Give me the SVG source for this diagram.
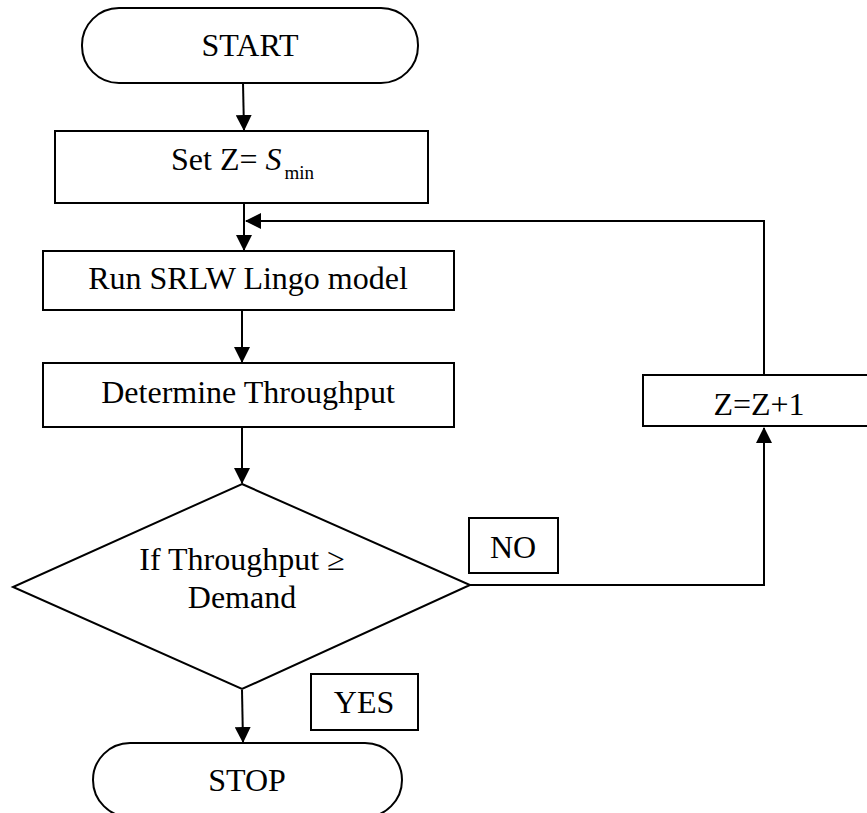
<svg xmlns="http://www.w3.org/2000/svg" width="867" height="813" viewBox="0 0 867 813">
<style>
.s{fill:#fff;stroke:#000;stroke-width:2}
.t{font-family:"Liberation Serif","Times New Roman",serif;font-size:32px;fill:#000}
.c{text-anchor:middle}
.l{fill:none;stroke:#000;stroke-width:2}
</style>
<defs>
<marker id="ah" viewBox="0 0 16 16" refX="15" refY="8" markerWidth="16" markerHeight="16" markerUnits="userSpaceOnUse" orient="auto">
<path d="M0,0 L16,8 L0,16 Z" fill="#000"/>
</marker>
</defs>
<rect width="867" height="813" fill="#fff"/>
<g id="connectors">
<line class="l" x1="243" y1="83" x2="244" y2="130" marker-end="url(#ah)"/>
<line class="l" x1="244" y1="203" x2="244" y2="250" marker-end="url(#ah)"/>
<polyline class="l" points="764,375 764,221 246,221" marker-end="url(#ah)"/>
<line class="l" x1="242" y1="310" x2="242" y2="362" marker-end="url(#ah)"/>
<line class="l" x1="242" y1="427" x2="242" y2="483" marker-end="url(#ah)"/>
<line class="l" x1="242" y1="690" x2="243" y2="742" marker-end="url(#ah)"/>
<polyline class="l" points="470,585 764,585 764,428" marker-end="url(#ah)"/>
</g>
<g id="start">
<rect class="s" x="82" y="8" width="336" height="75" rx="37" ry="37"/>
<text class="t c" x="250" y="56">START</text>
</g>
<g id="setz">
<rect class="s" x="55" y="131" width="373" height="72"/>
<text class="t" x="171" y="170">Set Z= <tspan font-style="italic">S</tspan><tspan font-size="19" dx="3" dy="9">min</tspan></text>
</g>
<g id="run">
<rect class="s" x="43" y="251" width="411" height="59"/>
<text class="t c" x="248" y="289">Run SRLW Lingo model</text>
</g>
<g id="determine">
<rect class="s" x="43" y="363" width="411" height="64"/>
<text class="t c" x="248" y="403">Determine Throughput</text>
</g>
<g id="decision">
<polygon class="s" points="242,484 470,585 242,689 13,587"/>
<text class="t c" x="242" y="570">If Throughput ≥</text>
<text class="t c" x="242" y="608">Demand</text>
</g>
<g id="no">
<rect class="s" x="469" y="518" width="89" height="55"/>
<text class="t c" x="513" y="558">NO</text>
</g>
<g id="yes">
<rect class="s" x="311" y="674" width="107" height="56"/>
<text class="t c" x="364" y="713">YES</text>
</g>
<g id="stop">
<rect class="s" x="93" y="743" width="309" height="74" rx="37" ry="37"/>
<text class="t c" x="247" y="791">STOP</text>
</g>
<g id="inc">
<rect class="s" x="643" y="375" width="242" height="51"/>
<text class="t c" x="759" y="415">Z=Z+1</text>
</g>
</svg>
